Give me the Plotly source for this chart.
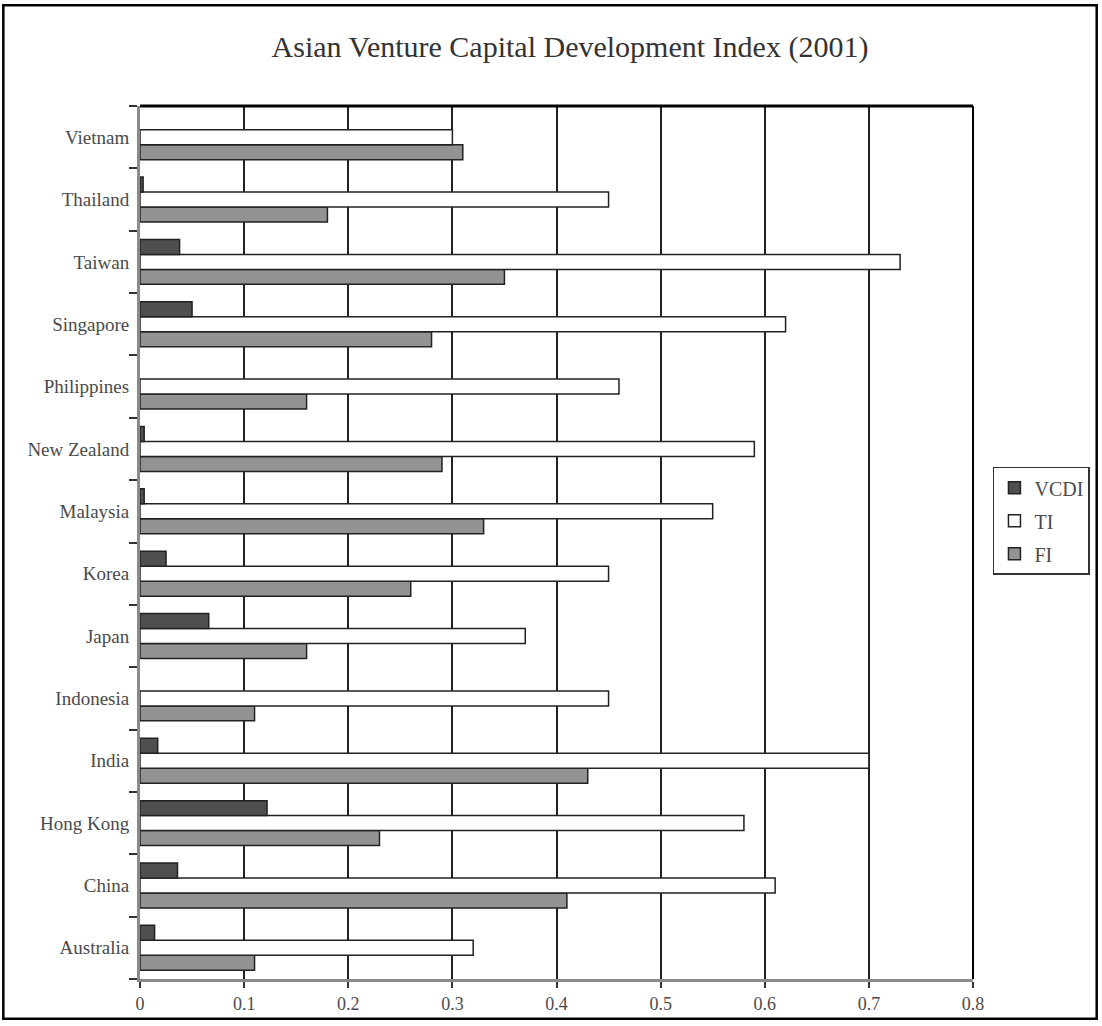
import plotly.graph_objects as go

categories = ["Australia", "China", "Hong Kong", "India", "Indonesia", "Japan", "Korea",
              "Malaysia", "New Zealand", "Philippines", "Singapore", "Taiwan", "Thailand", "Vietnam"]
vcdi = [0.014, 0.036, 0.122, 0.017, 0.0, 0.066, 0.025, 0.004, 0.004, 0.0, 0.050, 0.038, 0.003, 0.0]
ti = [0.32, 0.61, 0.58, 0.70, 0.45, 0.37, 0.45, 0.55, 0.59, 0.46, 0.62, 0.73, 0.45, 0.30]
fi = [0.11, 0.41, 0.23, 0.43, 0.11, 0.16, 0.26, 0.33, 0.29, 0.16, 0.28, 0.35, 0.18, 0.31]
x_ticks = [0, 0.1, 0.2, 0.3, 0.4, 0.5, 0.6, 0.7, 0.8]
x_tick_labels = ["0", "0.1", "0.2", "0.3", "0.4", "0.5", "0.6", "0.7", "0.8"]

W, H = 1102, 1026
L, R, T, B = 140, 975, 106, 982

FONT = "Liberation Serif"
TXT = "#4a4a4a"


def edge_widths(vals):
    return [1.5 if v > 0 else 0 for v in vals]


fig = go.Figure()
fig.add_trace(go.Bar(y=categories, x=fi, name="FI", orientation="h",
                     marker=dict(color="#939393", line=dict(color="#222222", width=edge_widths(fi))),
                     legendrank=3, legendgroup="c"))
fig.add_trace(go.Bar(y=categories, x=ti, name="TI", orientation="h",
                     marker=dict(color="#ffffff", line=dict(color="#222222", width=edge_widths(ti))),
                     legendrank=2, legendgroup="b"))
fig.add_trace(go.Bar(y=categories, x=vcdi, name="VCDI", orientation="h",
                     marker=dict(color="#4f4f4f", line=dict(color="#222222", width=edge_widths(vcdi))),
                     legendrank=1, legendgroup="a"))


def px(xp):
    return (xp - L) / (R - L)


def py(yp):
    return 1 - (yp - T) / (B - T)


shapes = [
    dict(type="rect", xref="paper", yref="paper", x0=px(3), x1=px(1099), y0=py(1022), y1=py(5),
         line=dict(color="black", width=2.5), fillcolor="rgba(0,0,0,0)", layer="below"),
    dict(type="line", xref="paper", yref="paper", x0=0, x1=1, y0=1, y1=1,
         line=dict(color="black", width=3)),
    dict(type="line", xref="paper", yref="paper", x0=1, x1=1, y0=0, y1=1,
         line=dict(color="black", width=2)),
]

fig.update_layout(
    width=W, height=H,
    margin=dict(l=L, r=W - R, t=T, b=H - B),
    paper_bgcolor="white", plot_bgcolor="white",
    barmode="group", bargap=0.28, bargroupgap=0,
    title=dict(text="Asian Venture Capital Development Index (2001)", x=570 / W, xanchor="center",
               y=1 - 46 / H, yanchor="middle",
               font=dict(family=FONT, size=30, color="#333333")),
    font=dict(family=FONT, size=19, color=TXT),
    legend=dict(x=px(995), y=py(468), xanchor="left", yanchor="top",
                bordercolor="#333333", borderwidth=1.5, bgcolor="white",
                font=dict(family=FONT, size=20, color=TXT),
                traceorder="grouped", tracegroupgap=4, itemwidth=30),
    shapes=shapes,
    showlegend=True,
)

fig.update_xaxes(range=[0, 0.8], tickvals=x_ticks, ticktext=x_tick_labels,
                 showgrid=True, gridcolor="#222222", gridwidth=2,
                 showline=True, linecolor="#8a8a8a", linewidth=3,
                 ticks="outside", ticklen=6, tickcolor="#333333", tickwidth=2,
                 zeroline=False, tickfont=dict(family=FONT, size=18, color=TXT))
fig.update_yaxes(type="category", categoryorder="array", categoryarray=categories,
                 showgrid=False, showline=True, linecolor="#8a8a8a", linewidth=3,
                 ticks="outside", tickson="boundaries", ticklen=8, tickcolor="#333333", tickwidth=2,
                 ticklabelstandoff=4,
                 tickfont=dict(family=FONT, size=19, color=TXT))

fig.write_html("out.html")
